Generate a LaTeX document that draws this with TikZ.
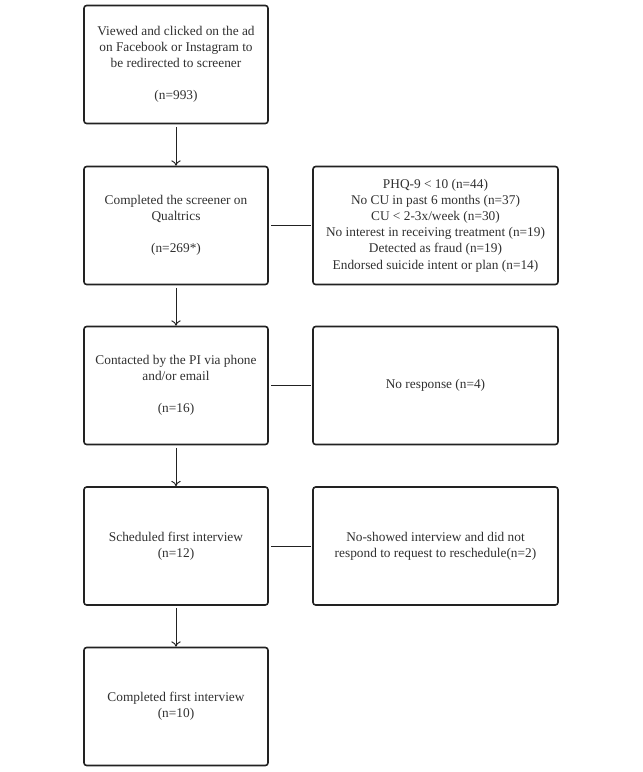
\documentclass[tikz,border=0pt]{standalone}
\usepackage{fontspec}
\setmainfont{Liberation Serif}
\usetikzlibrary{arrows.meta}
\definecolor{txt}{HTML}{303030}
\definecolor{ln}{HTML}{222222}
\tikzset{
  box/.style={draw=ln, line width=1.2pt, rounded corners=2pt, inner sep=0pt,
    align=center, text=txt, font=\fontsize{10}{12.1}\selectfont},
  lbox/.style={box, minimum width=138pt, minimum height=88.5pt},
  rbox/.style={box, minimum width=183.75pt, minimum height=88.5pt},
  flow/.style={draw=ln, line width=0.7pt, -{To[length=4pt,width=7pt]}, shorten <=2pt},
  side/.style={draw=ln, line width=0.7pt, shorten <=2pt, shorten >=1pt}
}
\begin{document}
\begin{tikzpicture}[x=0.75pt,y=-0.75pt]
\useasboundingbox (0,0) rectangle (643,772);
\node[lbox] (b1) at (176,64.5) {Viewed and clicked on the ad\\on Facebook or Instagram to\\be redirected to screener\\[12.1pt](n=993)};
\node[lbox] (b2) at (176,225.5) {Completed the screener on\\Qualtrics\\[12.1pt](n=269*)};
\node[lbox] (b3) at (176,385.5) {Contacted by the PI via phone\\and/or email\\[12.1pt](n=16)};
\node[lbox] (b4) at (176,546) {Scheduled first interview\\(n=12)};
\node[lbox] (b5) at (176,706.5) {Completed first interview\\(n=10)};
\node[rbox] (r2) at (435.5,225.5) {PHQ-9 < 10 (n=44)\\No CU in past 6 months (n=37)\\CU < 2-3x/week (n=30)\\No interest in receiving treatment (n=19)\\Detected as fraud (n=19)\\Endorsed suicide intent or plan (n=14)};
\node[rbox] (r3) at (435.5,385.5) {No response (n=4)};
\node[rbox] (r4) at (435.5,546) {No-showed interview and did not\\respond to request to reschedule(n=2)};
\draw[flow] (b1) -- (b2);
\draw[flow] (b2) -- (b3);
\draw[flow] (b3) -- (b4);
\draw[flow] (b4) -- (b5);
\draw[side] (b2) -- (r2);
\draw[side] (b3) -- (r3);
\draw[side] (b4) -- (r4);
\end{tikzpicture}
\end{document}
